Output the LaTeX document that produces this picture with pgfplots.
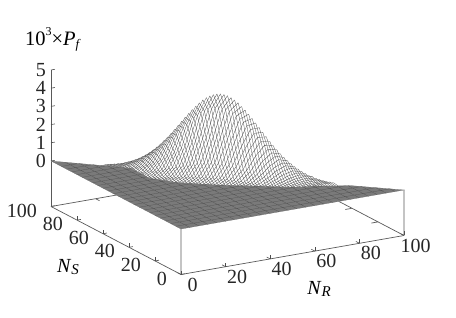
\documentclass[border=0pt]{standalone}
\usepackage{fontspec}
\setmainfont{Liberation Serif}
\usepackage{pgfplots}
\pgfplotsset{compat=1.18}
\begin{document}
\begin{tikzpicture}
\begin{axis}[
  x={(2.23pt,0.39pt)},y={(-1.30pt,0.68pt)},z={(0pt,18.2pt)},
  xmin=0,xmax=100,ymin=0,ymax=100,zmin=-2.5,zmax=5,
  clip=false,
  axis x line*=bottom,axis y line*=left,axis z line*=left,
  axis line style={color=black!65,line width=0.7pt,-},
  tick style={color=black!70,line width=0.6pt},
  tick align=inside,major tick length=4pt,
  xtick={0,20,40,60,80,100},ytick={0,20,40,60,80,100},ztick={0,1,2,3,4,5},
  /pgf/number format/assume math mode=true,
  tick label style={font=\fontsize{20}{20}\selectfont,text=black!85,inner sep=0pt},
  every x tick label/.append style={anchor=center,xshift=11.5pt,yshift=-10pt},
  every y tick label/.append style={anchor=east,xshift=-14pt,yshift=-4pt},
  every z tick label/.append style={anchor=east,xshift=-5pt},
  xlabel={\fontsize{20}{20}\selectfont\textit{N}\raisebox{-0.3ex}{\fontsize{15}{15}\selectfont\textit{R}}},
  ylabel={\fontsize{20}{20}\selectfont\textit{N}\raisebox{-0.3ex}{\fontsize{15}{15}\selectfont\textit{S}}},
  title={\fontsize{20.5}{20}\selectfont 10\raisebox{0.5em}{\fontsize{12}{12}\selectfont 3}×\textit{P}\raisebox{-0.3ex}{\fontsize{13}{13}\selectfont\textit{f}}},
  every axis x label/.append style={at={(axis cs:61.9,0,-4.62)},anchor=center,rotate=0},
  every axis y label/.append style={at={(axis cs:-50.7,0,-1.0)},anchor=center,rotate=0},
  title style={at={(axis cs:-57.4,0,11.33)},anchor=center},
]
\path (axis cs:-81.17,0,14.32) rectangle (axis cs:123.3,0,-7.5);
% back edges and verticals
\addplot3[black!65,line width=0.7pt,no marks,unbounded coords=jump] coordinates {
(0,100,-2.5)(100,100,-2.5)(100,0,-2.5)(0,0,nan)
(0,0,-2.5)(0,0,0)(0,0,nan)(100,0,-2.5)(100,0,0)(0,0,nan)
(20,100,-2.5)(20,97,-2.5)(0,0,nan)(40,100,-2.5)(40,97,-2.5)(0,0,nan)
(100,20,-2.5)(97,20,-2.5)(0,0,nan)(100,40,-2.5)(97,40,-2.5)};
% opaque underlay
\addplot3[fill=white,draw=none,no marks] coordinates {
(0,0,0)(100,0,0)(86,14,0.02)(82,18,0.05)(78,22,0.13)(74,26,0.32)(70,30,0.67)(66,34,1.25)(62,38,2.06)(58,42,3.01)(54,46,3.86)(50,50,4.38)(48,52,4.45)(46,54,4.38)(42,58,3.86)(38,62,3.01)(34,66,2.06)(30,70,1.25)(26,74,0.67)(22,78,0.32)(18,82,0.13)(14,86,0.05)(10,90,0.02)(0,100,0)(0,0,0)};
% lines of constant N_S
\addplot3[black!70,line width=0.3pt,no marks,unbounded coords=jump] coordinates {
(56,20,0)(60,20,.01)(64,20,.03)(68,20,.07)(72,20,.11)(76,20,.11)(80,20,.08)(0,0,nan)
(55,21,0)(59,21,.01)(63,21,.04)(67,21,.09)(71,21,.13)(75,21,.14)(79,21,.10)(0,0,nan)
(54,22,0)(58,22,.02)(62,22,.05)(66,22,.11)(70,22,.16)(74,22,.17)(78,22,.13)(0,0,nan)
(53,23,0)(57,23,.02)(61,23,.06)(65,23,.13)(69,23,.20)(73,23,.22)(77,23,.16)(0,0,nan)
(52,24,0)(56,24,.02)(60,24,.07)(64,24,.15)(68,24,.24)(72,24,.27)(76,24,.20)(0,0,nan)
(51,25,0)(55,25,.02)(59,25,.08)(63,25,.18)(67,25,.29)(71,25,.33)(75,25,.25)(0,0,nan)
(50,26,0)(54,26,.03)(58,26,.09)(62,26,.21)(66,26,.35)(70,26,.40)(74,26,.32)(0,0,nan)
(49,27,0)(53,27,.03)(57,27,.11)(61,27,.25)(65,27,.41)(69,27,.48)(73,27,.38)(0,0,nan)
(48,28,0)(52,28,.03)(56,28,.12)(60,28,.29)(64,28,.48)(68,28,.57)(72,28,.47)(0,0,nan)
(47,29,0)(51,29,.04)(55,29,.14)(59,29,.33)(63,29,.56)(67,29,.67)(71,29,.56)(0,0,nan)
(46,30,0)(50,30,.04)(54,30,.15)(58,30,.37)(62,30,.65)(66,30,.79)(70,30,.67)(0,0,nan)
(45,31,0)(49,31,.05)(53,31,.17)(57,31,.42)(61,31,.74)(65,31,.92)(69,31,.79)(0,0,nan)
(44,32,0)(48,32,.05)(52,32,.19)(56,32,.47)(60,32,.85)(64,32,1.06)(68,32,.93)(0,0,nan)
(43,33,0)(47,33,.05)(51,33,.21)(55,33,.53)(59,33,.96)(63,33,1.22)(67,33,1.08)(0,0,nan)
(42,34,0)(46,34,.06)(50,34,.22)(54,34,.58)(58,34,1.07)(62,34,1.39)(66,34,1.25)(0,0,nan)
(41,35,0)(45,35,.06)(49,35,.24)(53,35,.63)(57,35,1.19)(61,35,1.56)(65,35,1.43)(0,0,nan)
(40,36,0)(44,36,.07)(48,36,.26)(52,36,.69)(56,36,1.31)(60,36,1.75)(64,36,1.63)(0,0,nan)
(39,37,0)(43,37,.07)(47,37,.27)(51,37,.74)(55,37,1.44)(59,37,1.95)(63,37,1.84)(0,0,nan)
(38,38,0)(42,38,.07)(46,38,.29)(50,38,.79)(54,38,1.56)(58,38,2.15)(62,38,2.06)(0,0,nan)
(37,39,0)(41,39,.07)(45,39,.30)(49,39,.84)(53,39,1.68)(57,39,2.35)(61,39,2.30)(0,0,nan)
(36,40,0)(40,40,.07)(44,40,.31)(48,40,.89)(52,40,1.80)(56,40,2.56)(60,40,2.53)(0,0,nan)
(35,41,0)(39,41,.07)(43,41,.32)(47,41,.93)(51,41,1.91)(55,41,2.75)(59,41,2.77)(0,0,nan)
(34,42,0)(38,42,.08)(42,42,.32)(46,42,.96)(50,42,2.01)(54,42,2.94)(58,42,3.01)(0,0,nan)
(33,43,0)(37,43,.07)(41,43,.33)(45,43,.98)(49,43,2.10)(53,43,3.12)(57,43,3.24)(0,0,nan)
(32,44,0)(36,44,.07)(40,44,.33)(44,44,1.00)(48,44,2.17)(52,44,3.28)(56,44,3.46)(0,0,nan)
(31,45,0)(35,45,.07)(39,45,.33)(43,45,1.02)(47,45,2.23)(51,45,3.43)(55,45,3.67)(0,0,nan)
(30,46,0)(34,46,.07)(38,46,.32)(42,46,1.02)(46,46,2.27)(50,46,3.55)(54,46,3.86)(0,0,nan)
(29,47,0)(33,47,.07)(37,47,.32)(41,47,1.02)(45,47,2.30)(49,47,3.65)(53,47,4.04)(0,0,nan)
(28,48,0)(32,48,.07)(36,48,.31)(40,48,1.00)(44,48,2.31)(48,48,3.72)(52,48,4.18)(0,0,nan)
(27,49,0)(31,49,.06)(35,49,.30)(39,49,.98)(43,49,2.30)(47,49,3.76)(51,49,4.29)(0,0,nan)
(26,50,0)(30,50,.06)(34,50,.29)(38,50,.96)(42,50,2.27)(46,50,3.78)(50,50,4.38)(0,0,nan)
(25,51,0)(29,51,.05)(33,51,.27)(37,51,.93)(41,51,2.23)(45,51,3.76)(49,51,4.43)(0,0,nan)
(24,52,0)(28,52,.05)(32,52,.26)(36,52,.89)(40,52,2.17)(44,52,3.72)(48,52,4.45)(0,0,nan)
(23,53,0)(27,53,.05)(31,53,.24)(35,53,.84)(39,53,2.10)(43,53,3.65)(47,53,4.43)(0,0,nan)
(22,54,0)(26,54,.04)(30,54,.22)(34,54,.79)(38,54,2.01)(42,54,3.55)(46,54,4.38)(0,0,nan)
(21,55,0)(25,55,.04)(29,55,.21)(33,55,.74)(37,55,1.91)(41,55,3.43)(45,55,4.29)(0,0,nan)
(20,56,0)(24,56,.03)(28,56,.19)(32,56,.69)(36,56,1.80)(40,56,3.28)(44,56,4.18)(0,0,nan)
(19,57,0)(23,57,.03)(27,57,.17)(31,57,.63)(35,57,1.68)(39,57,3.12)(43,57,4.04)(0,0,nan)
(18,58,0)(22,58,.03)(26,58,.15)(30,58,.58)(34,58,1.56)(38,58,2.94)(42,58,3.86)(0,0,nan)
(17,59,0)(21,59,.02)(25,59,.14)(29,59,.53)(33,59,1.44)(37,59,2.75)(41,59,3.67)(0,0,nan)
(16,60,0)(20,60,.02)(24,60,.12)(28,60,.47)(32,60,1.31)(36,60,2.56)(40,60,3.46)(0,0,nan)
(15,61,0)(19,61,.02)(23,61,.11)(27,61,.42)(31,61,1.19)(35,61,2.35)(39,61,3.24)(0,0,nan)
(14,62,0)(18,62,.02)(22,62,.09)(26,62,.37)(30,62,1.07)(34,62,2.15)(38,62,3.01)(0,0,nan)
(13,63,0)(17,63,.01)(21,63,.08)(25,63,.33)(29,63,.96)(33,63,1.95)(37,63,2.77)(0,0,nan)
(12,64,0)(16,64,.01)(20,64,.07)(24,64,.29)(28,64,.85)(32,64,1.75)(36,64,2.53)(0,0,nan)
(11,65,0)(15,65,.01)(19,65,.06)(23,65,.25)(27,65,.74)(31,65,1.56)(35,65,2.30)(0,0,nan)
(10,66,0)(14,66,.01)(18,66,.05)(22,66,.21)(26,66,.65)(30,66,1.39)(34,66,2.06)(0,0,nan)
(9,67,0)(13,67,.01)(17,67,.04)(21,67,.18)(25,67,.56)(29,67,1.22)(33,67,1.84)(0,0,nan)
(12,68,0)(16,68,.03)(20,68,.15)(24,68,.48)(28,68,1.06)(32,68,1.63)(0,0,nan)
(11,69,0)(15,69,.03)(19,69,.13)(23,69,.41)(27,69,.92)(31,69,1.43)(0,0,nan)
(10,70,0)(14,70,.02)(18,70,.11)(22,70,.35)(26,70,.79)(30,70,1.25)(0,0,nan)
(9,71,0)(13,71,.02)(17,71,.09)(21,71,.29)(25,71,.67)(29,71,1.08)(0,0,nan)
(8,72,0)(12,72,.02)(16,72,.07)(20,72,.24)(24,72,.57)(28,72,.93)(0,0,nan)
(7,73,0)(11,73,.01)(15,73,.06)(19,73,.20)(23,73,.48)(27,73,.79)(0,0,nan)
(6,74,0)(10,74,.01)(14,74,.05)(18,74,.16)(22,74,.40)(26,74,.67)(0,0,nan)
(5,75,0)(9,75,.01)(13,75,.04)(17,75,.13)(21,75,.33)(25,75,.56)(0,0,nan)
(4,76,0)(8,76,.01)(12,76,.03)(16,76,.11)(20,76,.27)(24,76,.47)(0,0,nan)
(7,77,0)(11,77,.02)(15,77,.09)(19,77,.22)(23,77,.38)(0,0,nan)
(6,78,0)(10,78,.02)(14,78,.07)(18,78,.17)(22,78,.32)(0,0,nan)
(5,79,0)(9,79,.01)(13,79,.05)(17,79,.14)(21,79,.25)(0,0,nan)
(4,80,0)(8,80,.01)(12,80,.04)(16,80,.11)(20,80,.20)(0,0,nan)
(3,81,0)(7,81,.01)(11,81,.03)(15,81,.09)(19,81,.16)(0,0,nan)
(2,82,0)(6,82,.01)(10,82,.03)(14,82,.07)(18,82,.13)(0,0,nan)
(5,83,0)(9,83,.02)(13,83,.05)(17,83,.10)(0,0,nan)
(4,84,0)(8,84,.01)(12,84,.04)(16,84,.08)};
% lines of constant N_R
\addplot3[black!70,line width=0.3pt,no marks,unbounded coords=jump] coordinates {
(16,60,0)(16,64,.01)(16,68,.03)(16,72,.07)(16,76,.11)(16,80,.11)(16,84,.08)(0,0,nan)
(17,59,0)(17,63,.01)(17,67,.04)(17,71,.09)(17,75,.13)(17,79,.14)(17,83,.10)(0,0,nan)
(18,58,0)(18,62,.02)(18,66,.05)(18,70,.11)(18,74,.16)(18,78,.17)(18,82,.13)(0,0,nan)
(19,57,0)(19,61,.02)(19,65,.06)(19,69,.13)(19,73,.20)(19,77,.22)(19,81,.16)(0,0,nan)
(20,56,0)(20,60,.02)(20,64,.07)(20,68,.15)(20,72,.24)(20,76,.27)(20,80,.20)(0,0,nan)
(21,55,0)(21,59,.02)(21,63,.08)(21,67,.18)(21,71,.29)(21,75,.33)(21,79,.25)(0,0,nan)
(22,54,0)(22,58,.03)(22,62,.09)(22,66,.21)(22,70,.35)(22,74,.40)(22,78,.32)(0,0,nan)
(23,53,0)(23,57,.03)(23,61,.11)(23,65,.25)(23,69,.41)(23,73,.48)(23,77,.38)(0,0,nan)
(24,52,0)(24,56,.03)(24,60,.12)(24,64,.29)(24,68,.48)(24,72,.57)(24,76,.47)(0,0,nan)
(25,51,0)(25,55,.04)(25,59,.14)(25,63,.33)(25,67,.56)(25,71,.67)(25,75,.56)(0,0,nan)
(26,50,0)(26,54,.04)(26,58,.15)(26,62,.37)(26,66,.65)(26,70,.79)(26,74,.67)(0,0,nan)
(27,49,0)(27,53,.05)(27,57,.17)(27,61,.42)(27,65,.74)(27,69,.92)(27,73,.79)(0,0,nan)
(28,48,0)(28,52,.05)(28,56,.19)(28,60,.47)(28,64,.85)(28,68,1.06)(28,72,.93)(0,0,nan)
(29,47,0)(29,51,.05)(29,55,.21)(29,59,.53)(29,63,.96)(29,67,1.22)(29,71,1.08)(0,0,nan)
(30,46,0)(30,50,.06)(30,54,.22)(30,58,.58)(30,62,1.07)(30,66,1.39)(30,70,1.25)(0,0,nan)
(31,45,0)(31,49,.06)(31,53,.24)(31,57,.63)(31,61,1.19)(31,65,1.56)(31,69,1.43)(0,0,nan)
(32,44,0)(32,48,.07)(32,52,.26)(32,56,.69)(32,60,1.31)(32,64,1.75)(32,68,1.63)(0,0,nan)
(33,43,0)(33,47,.07)(33,51,.27)(33,55,.74)(33,59,1.44)(33,63,1.95)(33,67,1.84)(0,0,nan)
(34,42,0)(34,46,.07)(34,50,.29)(34,54,.79)(34,58,1.56)(34,62,2.15)(34,66,2.06)(0,0,nan)
(35,41,0)(35,45,.07)(35,49,.30)(35,53,.84)(35,57,1.68)(35,61,2.35)(35,65,2.30)(0,0,nan)
(36,40,0)(36,44,.07)(36,48,.31)(36,52,.89)(36,56,1.80)(36,60,2.56)(36,64,2.53)(0,0,nan)
(37,39,0)(37,43,.07)(37,47,.32)(37,51,.93)(37,55,1.91)(37,59,2.75)(37,63,2.77)(0,0,nan)
(38,38,0)(38,42,.08)(38,46,.32)(38,50,.96)(38,54,2.01)(38,58,2.94)(38,62,3.01)(0,0,nan)
(39,37,0)(39,41,.07)(39,45,.33)(39,49,.98)(39,53,2.10)(39,57,3.12)(39,61,3.24)(0,0,nan)
(40,36,0)(40,40,.07)(40,44,.33)(40,48,1.00)(40,52,2.17)(40,56,3.28)(40,60,3.46)(0,0,nan)
(41,35,0)(41,39,.07)(41,43,.33)(41,47,1.02)(41,51,2.23)(41,55,3.43)(41,59,3.67)(0,0,nan)
(42,34,0)(42,38,.07)(42,42,.32)(42,46,1.02)(42,50,2.27)(42,54,3.55)(42,58,3.86)(0,0,nan)
(43,33,0)(43,37,.07)(43,41,.32)(43,45,1.02)(43,49,2.30)(43,53,3.65)(43,57,4.04)(0,0,nan)
(44,32,0)(44,36,.07)(44,40,.31)(44,44,1.00)(44,48,2.31)(44,52,3.72)(44,56,4.18)(0,0,nan)
(45,31,0)(45,35,.06)(45,39,.30)(45,43,.98)(45,47,2.30)(45,51,3.76)(45,55,4.29)(0,0,nan)
(46,30,0)(46,34,.06)(46,38,.29)(46,42,.96)(46,46,2.27)(46,50,3.78)(46,54,4.38)(0,0,nan)
(47,29,0)(47,33,.05)(47,37,.27)(47,41,.93)(47,45,2.23)(47,49,3.76)(47,53,4.43)(0,0,nan)
(48,28,0)(48,32,.05)(48,36,.26)(48,40,.89)(48,44,2.17)(48,48,3.72)(48,52,4.45)(0,0,nan)
(49,27,0)(49,31,.05)(49,35,.24)(49,39,.84)(49,43,2.10)(49,47,3.65)(49,51,4.43)(0,0,nan)
(50,26,0)(50,30,.04)(50,34,.22)(50,38,.79)(50,42,2.01)(50,46,3.55)(50,50,4.38)(0,0,nan)
(51,25,0)(51,29,.04)(51,33,.21)(51,37,.74)(51,41,1.91)(51,45,3.43)(51,49,4.29)(0,0,nan)
(52,24,0)(52,28,.03)(52,32,.19)(52,36,.69)(52,40,1.80)(52,44,3.28)(52,48,4.18)(0,0,nan)
(53,23,0)(53,27,.03)(53,31,.17)(53,35,.63)(53,39,1.68)(53,43,3.12)(53,47,4.04)(0,0,nan)
(54,22,0)(54,26,.03)(54,30,.15)(54,34,.58)(54,38,1.56)(54,42,2.94)(54,46,3.86)(0,0,nan)
(55,21,0)(55,25,.02)(55,29,.14)(55,33,.53)(55,37,1.44)(55,41,2.75)(55,45,3.67)(0,0,nan)
(56,20,0)(56,24,.02)(56,28,.12)(56,32,.47)(56,36,1.31)(56,40,2.56)(56,44,3.46)(0,0,nan)
(57,19,0)(57,23,.02)(57,27,.11)(57,31,.42)(57,35,1.19)(57,39,2.35)(57,43,3.24)(0,0,nan)
(58,18,0)(58,22,.02)(58,26,.09)(58,30,.37)(58,34,1.07)(58,38,2.15)(58,42,3.01)(0,0,nan)
(59,17,0)(59,21,.01)(59,25,.08)(59,29,.33)(59,33,.96)(59,37,1.95)(59,41,2.77)(0,0,nan)
(60,16,0)(60,20,.01)(60,24,.07)(60,28,.29)(60,32,.85)(60,36,1.75)(60,40,2.53)(0,0,nan)
(61,15,0)(61,19,.01)(61,23,.06)(61,27,.25)(61,31,.74)(61,35,1.56)(61,39,2.30)(0,0,nan)
(62,14,0)(62,18,.01)(62,22,.05)(62,26,.21)(62,30,.65)(62,34,1.39)(62,38,2.06)(0,0,nan)
(63,13,0)(63,17,.01)(63,21,.04)(63,25,.18)(63,29,.56)(63,33,1.22)(63,37,1.84)(0,0,nan)
(64,16,0)(64,20,.03)(64,24,.15)(64,28,.48)(64,32,1.06)(64,36,1.63)(0,0,nan)
(65,15,0)(65,19,.03)(65,23,.13)(65,27,.41)(65,31,.92)(65,35,1.43)(0,0,nan)
(66,14,0)(66,18,.02)(66,22,.11)(66,26,.35)(66,30,.79)(66,34,1.25)(0,0,nan)
(67,13,0)(67,17,.02)(67,21,.09)(67,25,.29)(67,29,.67)(67,33,1.08)(0,0,nan)
(68,12,0)(68,16,.02)(68,20,.07)(68,24,.24)(68,28,.57)(68,32,.93)(0,0,nan)
(69,11,0)(69,15,.01)(69,19,.06)(69,23,.20)(69,27,.48)(69,31,.79)(0,0,nan)
(70,10,0)(70,14,.01)(70,18,.05)(70,22,.16)(70,26,.40)(70,30,.67)(0,0,nan)
(71,9,0)(71,13,.01)(71,17,.04)(71,21,.13)(71,25,.33)(71,29,.56)(0,0,nan)
(72,8,0)(72,12,.01)(72,16,.03)(72,20,.11)(72,24,.27)(72,28,.47)(0,0,nan)
(73,11,0)(73,15,.02)(73,19,.09)(73,23,.22)(73,27,.38)(0,0,nan)
(74,10,0)(74,14,.02)(74,18,.07)(74,22,.17)(74,26,.32)(0,0,nan)
(75,9,0)(75,13,.01)(75,17,.05)(75,21,.14)(75,25,.25)(0,0,nan)
(76,8,0)(76,12,.01)(76,16,.04)(76,20,.11)(76,24,.20)(0,0,nan)
(77,7,0)(77,11,.01)(77,15,.03)(77,19,.09)(77,23,.16)(0,0,nan)
(78,6,0)(78,10,.01)(78,14,.03)(78,18,.07)(78,22,.13)(0,0,nan)
(79,9,0)(79,13,.02)(79,17,.05)(79,21,.10)(0,0,nan)
(80,8,0)(80,12,.01)(80,16,.04)(80,20,.08)};
% dense flat part of the surface, over the feet of the lines
\addplot3[fill=black!52,draw=black!58,line width=0.2pt,no marks] coordinates {
(0,0,0)(100,0,0)(85,15,0)(79,18,0)(74,21,0)(65,24,0)(54,32,0)(41,41,0)(29,51,0)(22,62,0)(22,77,0)(0,100,0)(0,0,0)};
\addplot3[black!68,line width=0.25pt,no marks,unbounded coords=jump] coordinates {
(0,4,0)(96,4,0)(0,0,nan)(0,8,0)(92,8,0)(0,0,nan)(0,12,0)(88,12,0)(0,0,nan)(0,16,0)(83,16,0)(0,0,nan)(0,20,0)(75.7,20,0)(0,0,nan)(0,24,0)(65,24,0)(0,0,nan)(0,28,0)(59.5,28,0)(0,0,nan)(0,32,0)(54,32,0)(0,0,nan)(0,36,0)(48.2,36,0)(0,0,nan)(0,40,0)(42.4,40,0)(0,0,nan)(0,44,0)(37.4,44,0)(0,0,nan)(0,48,0)(32.6,48,0)(0,0,nan)(0,52,0)(28.4,52,0)(0,0,nan)(0,56,0)(25.8,56,0)(0,0,nan)(0,60,0)(23.3,60,0)(0,0,nan)(0,64,0)(22,64,0)(0,0,nan)(0,68,0)(22,68,0)(0,0,nan)(0,72,0)(22,72,0)(0,0,nan)(0,76,0)(22,76,0)(0,0,nan)(0,80,0)(19,80,0)(0,0,nan)(0,84,0)(15,84,0)(0,0,nan)(0,88,0)(11,88,0)(0,0,nan)(0,92,0)(7,92,0)(0,0,nan)
(4,0,0)(4,96,0)(0,0,nan)(8,0,0)(8,92,0)(0,0,nan)(12,0,0)(12,88,0)(0,0,nan)(16,0,0)(16,84,0)(0,0,nan)(20,0,0)(20,79,0)(0,0,nan)(24,0,0)(24,58.9,0)(0,0,nan)(28,0,0)(28,52.4,0)(0,0,nan)(32,0,0)(32,48.7,0)(0,0,nan)(36,0,0)(36,45,0)(0,0,nan)(40,0,0)(40,41.8,0)(0,0,nan)(44,0,0)(44,38.9,0)(0,0,nan)(48,0,0)(48,36.2,0)(0,0,nan)(52,0,0)(52,33.4,0)(0,0,nan)(56,0,0)(56,30.5,0)(0,0,nan)(60,0,0)(60,27.6,0)(0,0,nan)(64,0,0)(64,24.7,0)(0,0,nan)(68,0,0)(68,23,0)(0,0,nan)(72,0,0)(72,22.2,0)(0,0,nan)(76,0,0)(76,19.8,0)(0,0,nan)(80,0,0)(80,17.3,0)(0,0,nan)(84,0,0)(84,15.5,0)(0,0,nan)(88,0,0)(88,12,0)(0,0,nan)(92,0,0)(92,8,0)(0,0,nan)(96,0,0)(96,4,0)};
\end{axis}
\end{tikzpicture}
\end{document}
